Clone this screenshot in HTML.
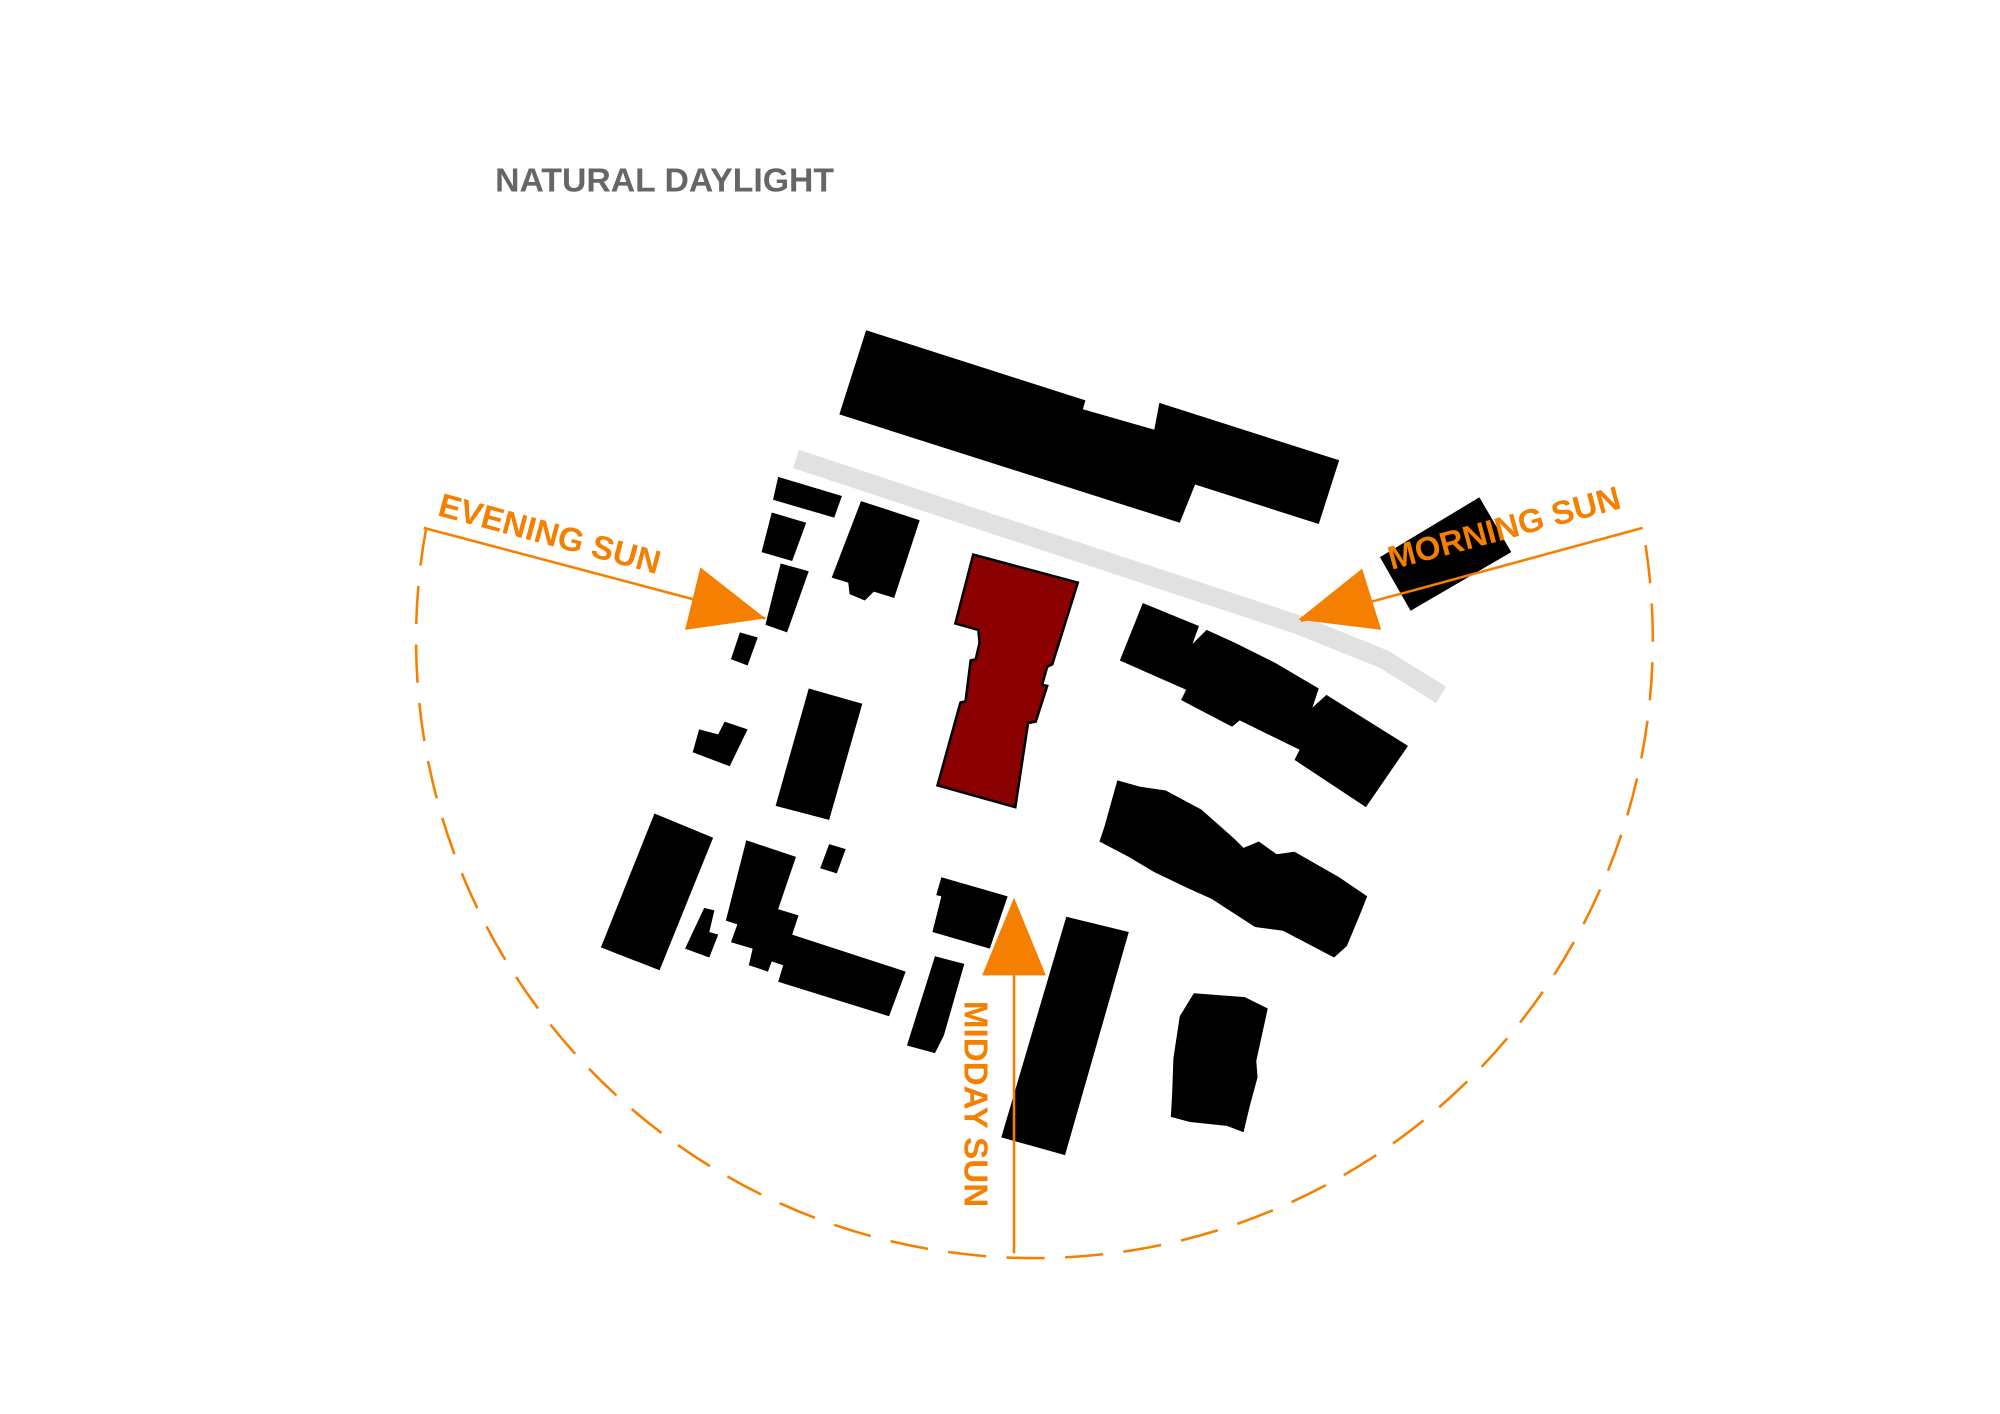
<!DOCTYPE html>
<html><head><meta charset="utf-8"><style>
html,body{margin:0;padding:0;background:#fff;}
svg{display:block;}
text{font-family:"Liberation Sans",Arial,sans-serif;font-weight:bold;}
</style></head><body>
<svg width="2000" height="1414" viewBox="0 0 1568 1109" xmlns="http://www.w3.org/2000/svg">
<rect width="1568" height="1109" fill="#fff"/>
<text x="388" y="150" font-size="26.5" fill="#666">NATURAL DAYLIGHT</text>

<!-- sun arc -->
<path d="M334,414 A485,485 0 1 0 1288,414" fill="none" stroke="#f57f00" stroke-width="2" stroke-dasharray="30,16"/>

<!-- road -->
<polyline points="624,360 1018,490 1085,517 1130,545" fill="none" stroke="#e1e1e1" stroke-width="15"/>

<g fill="#000">
<polygon points="679,259 851,314 849,321 905,337 909,316 1050,361 1034,411 937,380 925,410 658,325"/>
<polygon points="610,374 660,389 654,406 606,392"/>
<polygon points="605,402 632,410 621,440 597,433"/>
<polygon points="612,442 634,448 617,496 600,490"/>
<polygon points="580,496 594,500 586,522 573,517"/>
<polygon points="675,393 721,408 701,469 685,464 678,471 666,466 665,457 652,453"/>
<polygon points="548,572 563,576 568,566 586,572 572,601 543,590"/>
<polygon points="634,540 676,552 650,643 608,632"/>
<polygon points="513,638 559,657 517,761 471,743"/>
<polygon points="585,659 624,672 610,713 626,718 621,733 710,762 697,797 610,770 614,757 605,754 602,762 587,757 590,744 573,739 578,725 569,722"/>
<polygon points="552,712 560,714 556,731 563,733 556,751 537,744"/>
<polygon points="650,662 663,666 656,685 643,681"/>
<polygon points="738,688 790,703 776,744 731,731 738,703 734,702"/>
<polygon points="733,750 756,756 740,812 733,826 711,820"/>
<polygon points="836,719 885,731 835,906 785,892"/>
<polygon points="896,473 940,491 935,505 946,494 968,504 1000,520 1034,540 1029,555 1040,545 1104,585 1071,633 1015,596 1019,588 972,565 966,570 926,549 930,541 878,518"/>
<polygon points="876,612 894,617 914,620 942,635 968,658 975,665 987,660 1001,670 1015,668 1050,688 1072,703 1066,718 1056,742 1046,751 1006,730 984,727 950,705 930,696 905,684 885,672 862,660 866,648"/>
<polygon points="936,779 976,782 994,791 985,832 986,845 980,867 975,888 962,883 933,880 918,876 919,858 920,830 925,797"/>
<polygon points="1082,437 1160,390 1185,433 1106,479"/>
</g>
<polygon points="763,435 845,457 825,521 821,523 817,537 821,538 812,566 806,567 796,633 735,616 753,551 757,550 761,518 765,517 768,504 767,494 749,489" fill="#8b0000" stroke="#000" stroke-width="2"/>

<!-- arrows -->
<g stroke="#f57f00" stroke-width="2">
<line x1="332" y1="414" x2="600" y2="485"/>
<line x1="1288" y1="414" x2="1020" y2="487"/>
<line x1="795" y1="983" x2="795" y2="765"/>
</g>
<g fill="#f57f00">
<polygon points="549,445 600,485 537,494"/>
<polygon points="1068,446 1083,494 1018,486"/>
<polygon points="795,704 820,765 770,765"/>
</g>

<g fill="#f57f00" font-size="26">
<text transform="translate(342,404) rotate(15)">EVENING SUN</text>
<text transform="translate(1091,447) rotate(-15)">MORNING SUN</text>
<text transform="translate(756,785) rotate(90)">MIDDAY SUN</text>
</g>
</svg>
</body></html>
